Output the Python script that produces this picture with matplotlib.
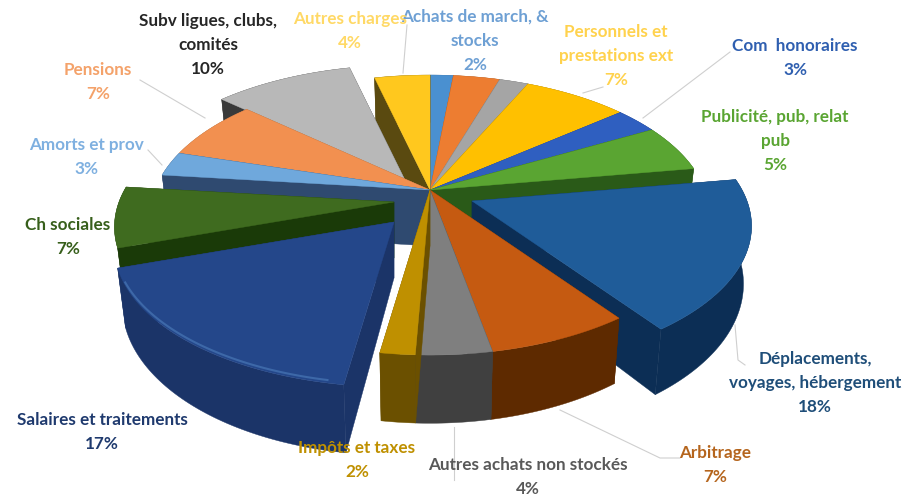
#Script for the 3D exploded expenses pie

import matplotlib
matplotlib.use("Agg")
import matplotlib.pyplot as plt
import numpy as np

plt.rcParams['font.family'] = ['Lato', 'DejaVu Sans']

# clockwise from the top
names = ["Achats de march, &\nstocks", "", "", "Personnels et\nprestations ext", "Com  honoraires",
         "Publicité, pub, relat\npub", "Déplacements,\nvoyages, hébergement", "Arbitrage",
         "Autres achats non stockés", "Impôts et taxes", "Salaires et traitements", "Ch sociales",
         "Amorts et prov", "Pensions", "Subv ligues, clubs,\ncomités", "Autres charges"]
values = [1.6, 3.2, 2.0, 7.2, 3.0, 5.4, 17.6, 7.0, 3.7, 1.7, 17.4, 7.0, 2.8, 7.0, 9.6, 3.8]
top_colors = ["#4A90D0", "#ED7D31", "#A5A5A5", "#FFC000", "#2F5FC0", "#5AA532", "#1F5C99", "#C55A11",
              "#7F7F7F", "#BF9000", "#24478A", "#3F6B1F", "#6FA8DC", "#F29050", "#B8B8B8", "#FFC81E"]
side_colors = ["#2A5A88", "#8A4A1C", "#5E5E5E", "#8A6A00", "#1C3A78", "#2A5A18", "#0C2E55", "#5E2A00",
               "#404040", "#6B5000", "#1B3468", "#1A3A08", "#2F4A70", "#905F3C", "#3A3A3A", "#5A4A10"]
text_colors = ["#6EA0D4", "", "", "#FFD24D", "#2F5FB0", "#5AA532", "#1F4E79", "#B5651D",
               "#595959", "#BF9000", "#1F3A6E", "#375F1B", "#7FB0E0", "#F4A26A", "#262626", "#FFD966"]
# pull-out of each slice, in pixels
explode_x = [0, 0, 0, 0, 0, 0, 42, 0, 0, 0, -36, -36, 0, 0, -25, 0]
explode_y = [0, 0, 0, 0, 0, 0, 11, 0, 0, 0, 32, 12, 0, 0, -10, 0]
# label centres in pixels, y of the first line
label_x = [475, 0, 0, 616, 795, 775, 815, 715, 528, 357, 102, 68, 86, 98, 208, 350]
label_y = [18, 0, 0, 33, 47, 118, 360, 454, 466, 449, 421, 226, 146, 71, 22, 20]
# back to front
draw_order = [0, 1, 2, 3, 4, 5, 15, 14, 13, 12, 11, 6, 10, 7, 8, 9]
leaders = [([407, 403], [25, 73]), ([583, 603], [93, 87]), ([643, 730], [118, 52]),
           ([140, 205], [80, 118]), ([148, 162], [150, 165]), ([735, 738, 745], [325, 360, 365]),
           ([454, 454], [427, 480]), ([560, 660, 680], [410, 458, 458])]

CX, CY = 430, 190
RX, RY = 275, 135.5
PERSP = 0.179
DEPTH = 56
CONVERGE = 0.025


def project(theta):
    f = 1 / (1 + PERSP * np.sin(theta))
    return CX + RX * np.cos(theta) * f, CY - RY * np.sin(theta) * f, DEPTH * f


def drawSlice(ax, a0, a1, dx, dy, top, side):
    theta = np.linspace(a0, a1, 60)
    x, y, d = project(theta)
    x, y = x + dx, y + dy
    ax0, ay0 = CX + dx, CY + dy
    # the lower edge leans a bit towards the middle
    xb = x - (x - CX) * CONVERGE
    yb = y + d
    # cut faces, then outer wall, then the top
    for i in (0, -1):
        ax.fill([ax0, x[i], xb[i], ax0], [ay0, y[i], yb[i], ay0 + DEPTH], color=side, lw=0.3)
    ax.fill(np.r_[x, xb[::-1]], np.r_[y, yb[::-1]], color=side, lw=0.3)
    ax.fill(np.r_[ax0, x], np.r_[ay0, y], color=top, lw=0.3)


fig = plt.figure(figsize=(9.08, 5), dpi=100)
ax = fig.add_axes([0, 0, 1, 1])
ax.set_xlim(0, 908)
ax.set_ylim(500, 0)
ax.axis('off')

for lx, ly in leaders:
    ax.plot(lx, ly, color="#CFCFCF", lw=0.8, zorder=0)

edges = np.r_[0, np.cumsum(values)] / np.sum(values)
angles = np.pi / 2 - 2 * np.pi * edges
for i in draw_order:
    drawSlice(ax, angles[i], angles[i + 1], explode_x[i], explode_y[i], top_colors[i], side_colors[i])

# light band along the edge of Salaires
theta = np.linspace(angles[10] - 0.05, angles[11] + 0.12, 50)
hx, hy, _ = project(theta)
ax.plot(hx + explode_x[10], hy + explode_y[10] - 3, color="#3D68A8", lw=1.5)

for i in range(len(names)):
    if names[i] == "":
        continue
    text = names[i] + "\n" + f"{round(values[i])}%"
    ax.text(label_x[i], label_y[i] - 9, text, color=text_colors[i], ha='center', va='top',
            fontsize=12.3, fontweight='bold', linespacing=1.6)

plt.savefig("out.png", dpi=100)
